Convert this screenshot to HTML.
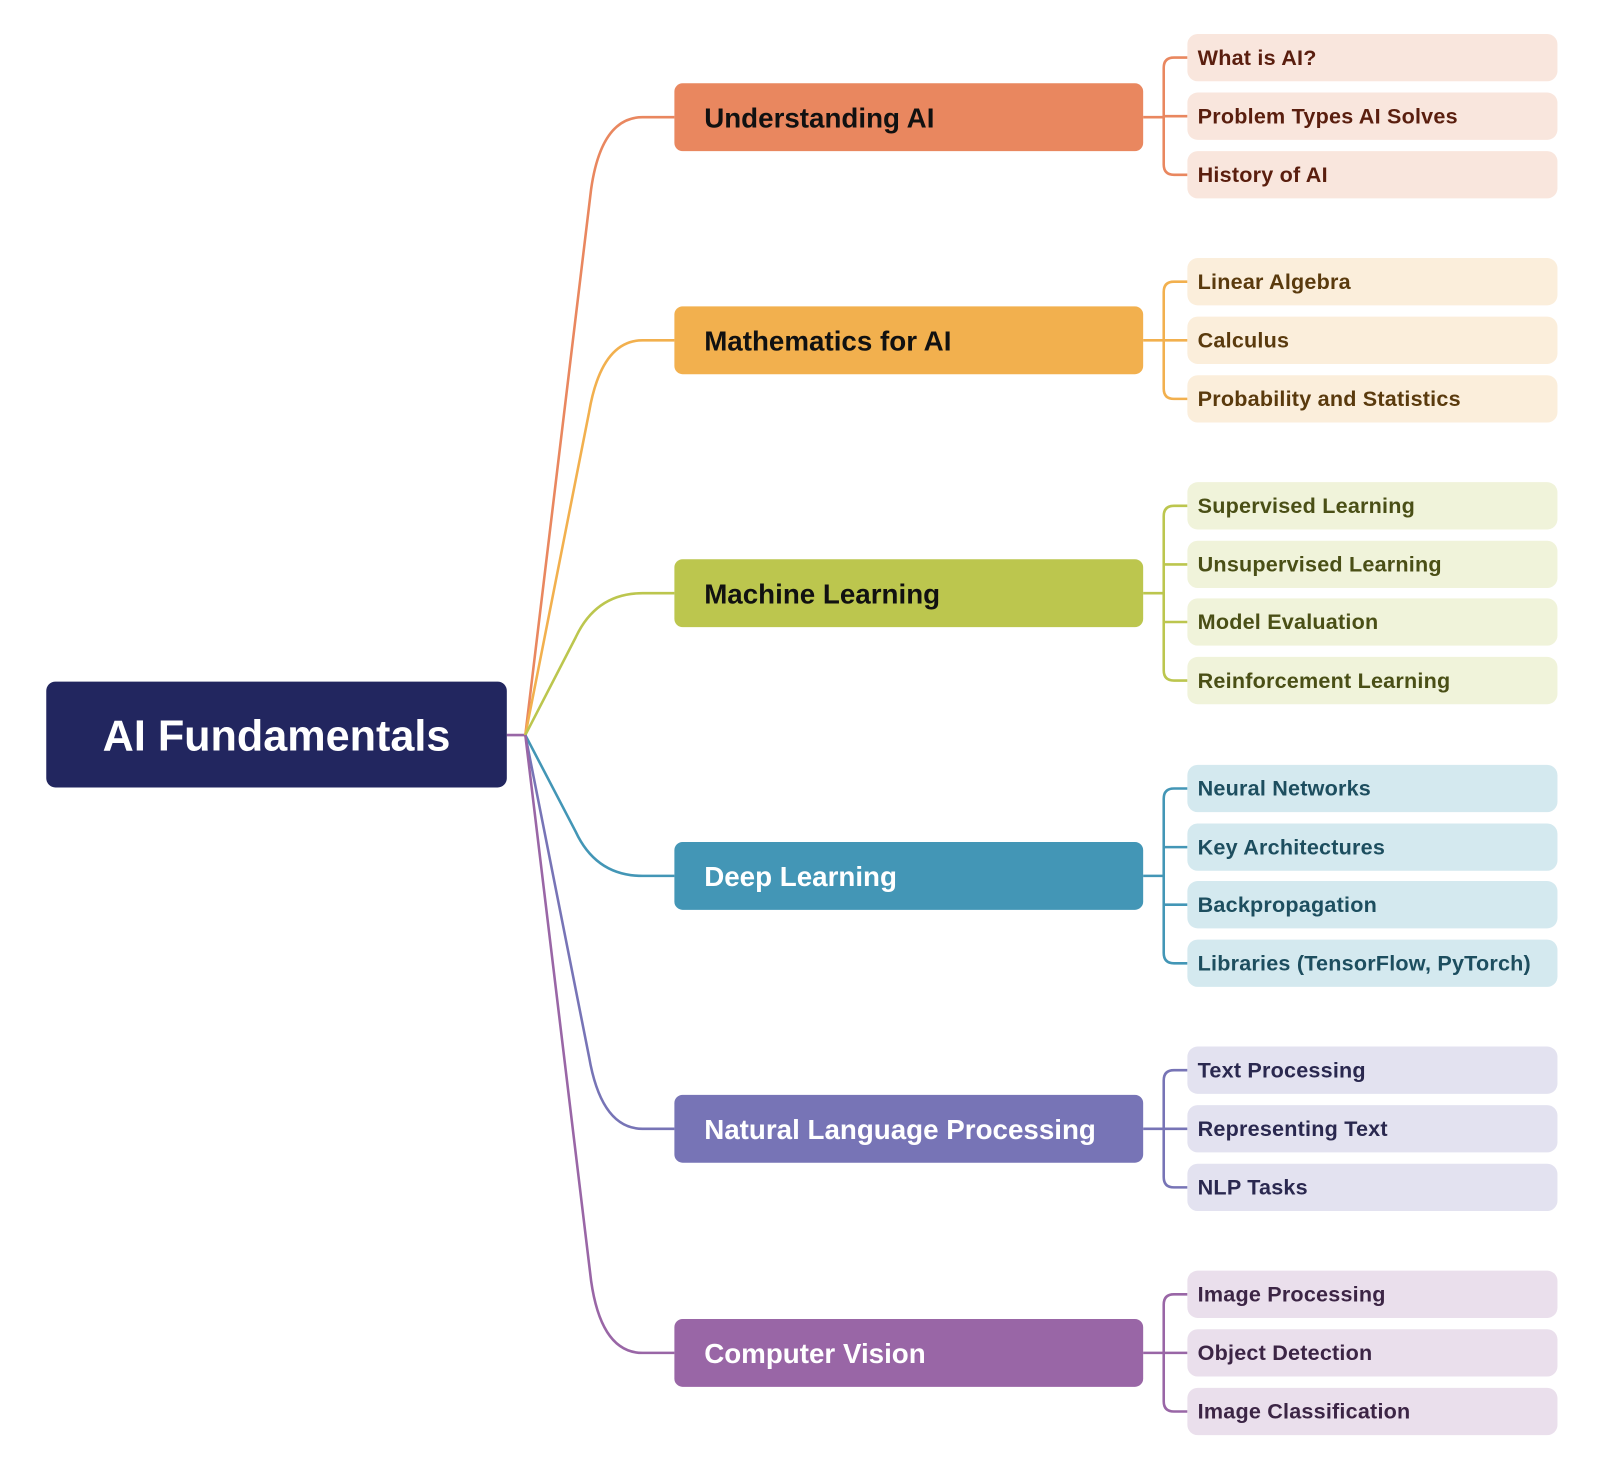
<!DOCTYPE html>
<html><head><meta charset="utf-8"><style>html,body{margin:0;padding:0;background:#fff}svg{display:block}
.b{font-family:"Liberation Sans",sans-serif;font-size:27px;font-weight:bold}
.l{font-family:"Liberation Sans",sans-serif;font-size:21px;font-weight:bold;letter-spacing:0.2px}</style></head><body>
<svg width="1614" height="1466" viewBox="0 0 1570 1426" xmlns="http://www.w3.org/2000/svg" fill="none" stroke-width="2.5">
<path d="M493 715H511" stroke="#9966a6"/>
<path d="M511 715L575 184Q585 114 625 114H656" stroke="#e9875f"/>
<path d="M511 715L573 401Q585 331 625 331H656" stroke="#f2b04e"/>
<path d="M511 715L560 620Q580 577 625 577H656" stroke="#bcc64e"/>
<path d="M511 715L560 809Q580 852 625 852H656" stroke="#4396b6"/>
<path d="M511 715L573 1028Q585 1098 625 1098H656" stroke="#7774b6"/>
<path d="M511 715L575 1246Q585 1316 625 1316H656" stroke="#9966a6"/>
<rect x="45" y="663" width="448" height="103" rx="9" fill="#22265f"/>
<text x="269" y="730" text-anchor="middle" fill="#fff" font-family="Liberation Sans,sans-serif" font-size="42" font-weight="bold">AI Fundamentals</text>
<g>
<path d="M1112 114H1132M1132 66V160M1132 66Q1132 56 1142 56H1155M1132 113H1155M1132 160Q1132 170 1142 170H1155" stroke="#e9875f"/>
<rect x="656" y="81" width="456" height="66" rx="8" fill="#e9875f"/><text class="b" x="685" y="124" fill="#111">Understanding AI</text>
<rect x="1155" y="33" width="360" height="46" rx="10" fill="#f9e6dd"/><text class="l" x="1165" y="63" fill="#5a1e0e">What is AI?</text>
<rect x="1155" y="90" width="360" height="46" rx="10" fill="#f9e6dd"/><text class="l" x="1165" y="120" fill="#5a1e0e">Problem Types AI Solves</text>
<rect x="1155" y="147" width="360" height="46" rx="10" fill="#f9e6dd"/><text class="l" x="1165" y="177" fill="#5a1e0e">History of AI</text>
</g>
<g>
<path d="M1112 331H1155M1132 284V378M1132 284Q1132 274 1142 274H1155M1132 378Q1132 388 1142 388H1155" stroke="#f2b04e"/>
<rect x="656" y="298" width="456" height="66" rx="8" fill="#f2b04e"/><text class="b" x="685" y="341" fill="#111">Mathematics for AI</text>
<rect x="1155" y="251" width="360" height="46" rx="10" fill="#fbeedb"/><text class="l" x="1165" y="281" fill="#5a3a0d">Linear Algebra</text>
<rect x="1155" y="308" width="360" height="46" rx="10" fill="#fbeedb"/><text class="l" x="1165" y="338" fill="#5a3a0d">Calculus</text>
<rect x="1155" y="365" width="360" height="46" rx="10" fill="#fbeedb"/><text class="l" x="1165" y="395" fill="#5a3a0d">Probability and Statistics</text>
</g>
<g>
<path d="M1112 577H1132M1132 502V652M1132 502Q1132 492 1142 492H1155M1132 549H1155M1132 605H1155M1132 652Q1132 662 1142 662H1155" stroke="#bcc64e"/>
<rect x="656" y="544" width="456" height="66" rx="8" fill="#bcc64e"/><text class="b" x="685" y="587" fill="#111">Machine Learning</text>
<rect x="1155" y="469" width="360" height="46" rx="10" fill="#f0f3da"/><text class="l" x="1165" y="499" fill="#4a4f16">Supervised Learning</text>
<rect x="1155" y="526" width="360" height="46" rx="10" fill="#f0f3da"/><text class="l" x="1165" y="556" fill="#4a4f16">Unsupervised Learning</text>
<rect x="1155" y="582" width="360" height="46" rx="10" fill="#f0f3da"/><text class="l" x="1165" y="612" fill="#4a4f16">Model Evaluation</text>
<rect x="1155" y="639" width="360" height="46" rx="10" fill="#f0f3da"/><text class="l" x="1165" y="669" fill="#4a4f16">Reinforcement Learning</text>
</g>
<g>
<path d="M1112 852H1132M1132 777V927M1132 777Q1132 767 1142 767H1155M1132 824H1155M1132 880H1155M1132 927Q1132 937 1142 937H1155" stroke="#4396b6"/>
<rect x="656" y="819" width="456" height="66" rx="8" fill="#4396b6"/><text class="b" x="685" y="862" fill="#fff">Deep Learning</text>
<rect x="1155" y="744" width="360" height="46" rx="10" fill="#d4e9ef"/><text class="l" x="1165" y="774" fill="#1d4e5f">Neural Networks</text>
<rect x="1155" y="801" width="360" height="46" rx="10" fill="#d4e9ef"/><text class="l" x="1165" y="831" fill="#1d4e5f">Key Architectures</text>
<rect x="1155" y="857" width="360" height="46" rx="10" fill="#d4e9ef"/><text class="l" x="1165" y="887" fill="#1d4e5f">Backpropagation</text>
<rect x="1155" y="914" width="360" height="46" rx="10" fill="#d4e9ef"/><text class="l" x="1165" y="944" fill="#1d4e5f">Libraries (TensorFlow, PyTorch)</text>
</g>
<g>
<path d="M1112 1098H1155M1132 1051V1145M1132 1051Q1132 1041 1142 1041H1155M1132 1145Q1132 1155 1142 1155H1155" stroke="#7774b6"/>
<rect x="656" y="1065" width="456" height="66" rx="8" fill="#7774b6"/><text class="b" x="685" y="1108" fill="#fff">Natural Language Processing</text>
<rect x="1155" y="1018" width="360" height="46" rx="10" fill="#e3e2f0"/><text class="l" x="1165" y="1048" fill="#2a284f">Text Processing</text>
<rect x="1155" y="1075" width="360" height="46" rx="10" fill="#e3e2f0"/><text class="l" x="1165" y="1105" fill="#2a284f">Representing Text</text>
<rect x="1155" y="1132" width="360" height="46" rx="10" fill="#e3e2f0"/><text class="l" x="1165" y="1162" fill="#2a284f">NLP Tasks</text>
</g>
<g>
<path d="M1112 1316H1155M1132 1269V1363M1132 1269Q1132 1259 1142 1259H1155M1132 1363Q1132 1373 1142 1373H1155" stroke="#9966a6"/>
<rect x="656" y="1283" width="456" height="66" rx="8" fill="#9966a6"/><text class="b" x="685" y="1326" fill="#fff">Computer Vision</text>
<rect x="1155" y="1236" width="360" height="46" rx="10" fill="#eadfec"/><text class="l" x="1165" y="1266" fill="#3c2545">Image Processing</text>
<rect x="1155" y="1293" width="360" height="46" rx="10" fill="#eadfec"/><text class="l" x="1165" y="1323" fill="#3c2545">Object Detection</text>
<rect x="1155" y="1350" width="360" height="46" rx="10" fill="#eadfec"/><text class="l" x="1165" y="1380" fill="#3c2545">Image Classification</text>
</g>
</svg>
</body></html>
